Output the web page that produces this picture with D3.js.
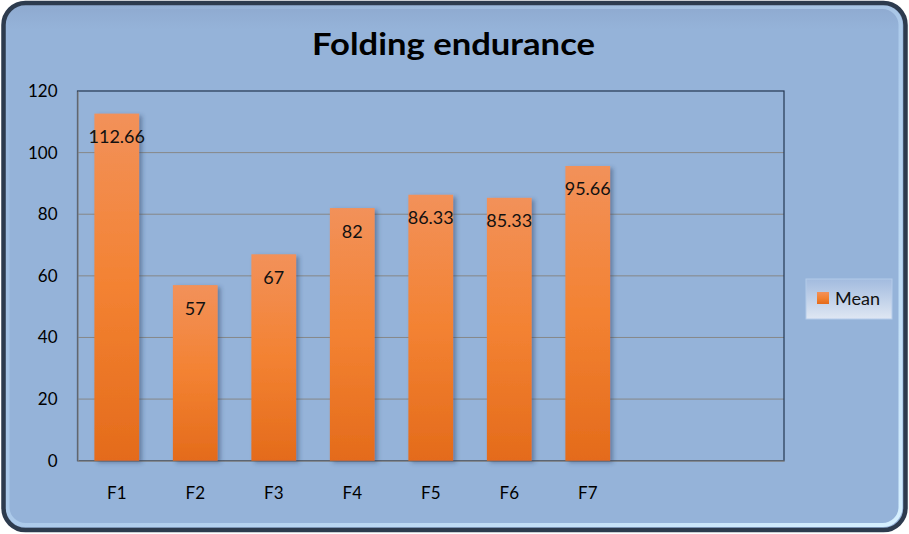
<!DOCTYPE html>
<html><head><meta charset="utf-8">
<script src="https://cdn.jsdelivr.net/npm/d3@7"></script>
<style>html,body{margin:0;padding:0;background:#fff;}svg{display:block;}</style>
</head><body>
<svg id="chart" width="909" height="534"></svg>
<script>
const title = "Folding endurance";
const categories = ["F1","F2","F3","F4","F5","F6","F7"];
const meanValues = [112.66, 57, 67, 82, 86.33, 85.33, 95.66];
const valueLabels = ["112.66","57","67","82","86.33","85.33","95.66"];
const yTicks = [0, 20, 40, 60, 80, 100, 120];
const seriesName = "Mean";
const emptySlots = ["_e1","_e2"];

const svg = d3.select("#chart");
const W = 909, H = 534;
const plot = {left: 77.5, right: 784, top: 91, bottom: 460.7};
const font = "Lato, 'Open Sans', sans-serif";

const defs = svg.append("defs");
const bg = defs.append("linearGradient").attr("id","bgGrad").attr("x1",0).attr("y1",0).attr("x2",0).attr("y2",1);
bg.append("stop").attr("offset","0").attr("stop-color","#8ea9cf");
bg.append("stop").attr("offset","0.05").attr("stop-color","#95b3d9");
bg.append("stop").attr("offset","1").attr("stop-color","#95b3d9");

const barG = defs.append("linearGradient").attr("id","barGrad").attr("x1",0).attr("y1",0).attr("x2",0).attr("y2",1);
barG.append("stop").attr("offset","0").attr("stop-color","#f2915a");
barG.append("stop").attr("offset","0.5").attr("stop-color","#f38232");
barG.append("stop").attr("offset","1").attr("stop-color","#e46b1b");

const legG = defs.append("linearGradient").attr("id","legGrad").attr("x1",0).attr("y1",0).attr("x2",0).attr("y2",1);
legG.append("stop").attr("offset","0").attr("stop-color","#a2bbdf");
legG.append("stop").attr("offset","1").attr("stop-color","#dfe7f3");

const hl = defs.append("linearGradient").attr("id","hlGrad").attr("x1",0).attr("y1",0).attr("x2",1).attr("y2",1);
hl.append("stop").attr("offset","0").attr("stop-color","#c8e6ff").attr("stop-opacity",0.0);
hl.append("stop").attr("offset","0.55").attr("stop-color","#c8e6ff").attr("stop-opacity",0.5);
hl.append("stop").attr("offset","1").attr("stop-color","#d6f0ff").attr("stop-opacity",1);

const sh = defs.append("filter").attr("id","shadow").attr("x","-20%").attr("y","-10%").attr("width","150%").attr("height","130%");
sh.append("feDropShadow").attr("dx",3).attr("dy",2).attr("stdDeviation",2.2)
  .attr("flood-color","#2a3f60").attr("flood-opacity",0.45);

// Outer frame
svg.append("rect").attr("x",3.5).attr("y",3).attr("width",902).attr("height",527)
  .attr("rx",22).attr("ry",22).attr("fill","url(#bgGrad)");
svg.append("rect").attr("x",7.5).attr("y",7).attr("width",893).attr("height",518)
  .attr("rx",18).attr("ry",18).attr("fill","none").attr("stroke","url(#hlGrad)").attr("stroke-width",4);
svg.append("rect").attr("x",3.5).attr("y",3).attr("width",902).attr("height",527)
  .attr("rx",22).attr("ry",22).attr("fill","none").attr("stroke","#2d3b4e").attr("stroke-width",4.5);

// Title
const t = svg.append("text").attr("x",453.5).attr("y",55).attr("text-anchor","middle")
  .attr("font-family",font).attr("font-weight","bold").attr("font-size",31)
  .attr("fill","#000").text(title);
const tl = t.node().getComputedTextLength();
if (tl > 0) t.attr("textLength",283).attr("lengthAdjust","spacingAndGlyphs");

// Scales
const x = d3.scaleBand().domain(categories.concat(emptySlots))
  .range([plot.left, plot.right]).paddingInner(0.43).paddingOuter(0.215);
const y = d3.scaleLinear().domain([0,120]).range([plot.bottom, plot.top]);

// Gridlines
svg.append("g").selectAll("line").data(yTicks.filter(d => d > 0 && d < 120)).join("line")
  .attr("x1",plot.left).attr("x2",plot.right).attr("y1",d=>y(d)).attr("y2",d=>y(d))
  .attr("stroke","#878787").attr("stroke-width",1);

// Plot border
svg.append("rect").attr("x",plot.left).attr("y",plot.top)
  .attr("width",plot.right-plot.left).attr("height",plot.bottom-plot.top)
  .attr("fill","none").attr("stroke","#243650").attr("stroke-width",1.2);

// Axes
const yAxis = d3.axisLeft(y).tickValues(yTicks).tickSize(0).tickPadding(20);
const gy = svg.append("g").attr("transform",`translate(${plot.left},0)`).call(yAxis);
gy.select(".domain").attr("stroke","#878787").attr("stroke-width",1.2);
gy.selectAll("text").attr("font-family",font).attr("font-size",17).attr("fill","#000");

const xAxis = d3.axisBottom(x).tickValues(categories).tickSize(0).tickPadding(26);
const gx = svg.append("g").attr("transform",`translate(0,${plot.bottom})`).call(xAxis);
gx.select(".domain").attr("stroke","#878787").attr("stroke-width",1.2);
gx.selectAll("text").attr("font-family",font).attr("font-size",17).attr("fill","#000");

// Bars
const data = categories.map((c,i)=>({c, v: meanValues[i], label: valueLabels[i]}));
svg.append("g").selectAll("rect").data(data).join("rect")
  .attr("x",d=>x(d.c)).attr("width",x.bandwidth())
  .attr("y",d=>y(d.v)).attr("height",d=>y(0)-y(d.v))
  .attr("fill","url(#barGrad)").attr("filter","url(#shadow)");

// Value labels
svg.append("g").selectAll("text").data(data).join("text")
  .attr("x",d=>x(d.c)+x.bandwidth()/2).attr("y",d=>y(d.v)+29.5)
  .attr("text-anchor","middle").attr("font-family",font).attr("font-size",18)
  .attr("fill","#111").text(d=>d.label);

// Legend
const lg = svg.append("g");
lg.append("rect").attr("x",806).attr("y",279).attr("width",86).attr("height",40)
  .attr("fill","url(#legGrad)").attr("stroke","#b4cbea").attr("stroke-width",1);
lg.append("rect").attr("x",817).attr("y",292).attr("width",12).attr("height",12)
  .attr("fill","url(#barGrad)");
lg.append("text").attr("x",835).attr("y",305).attr("font-family",font).attr("font-size",18)
  .attr("fill","#111").text(seriesName);
</script>
</body></html>
